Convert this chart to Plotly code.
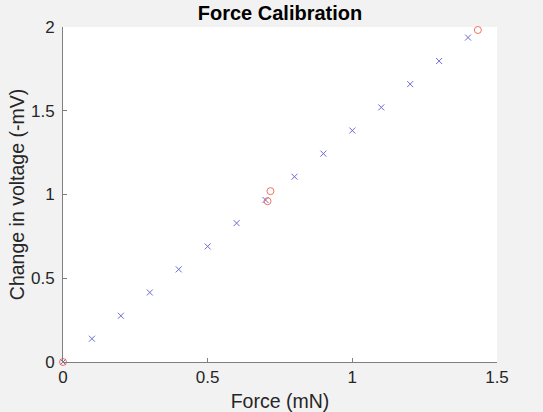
import plotly.graph_objects as go

# blue crosses: measured points
force = [0.0, 0.1, 0.2, 0.3, 0.4, 0.5, 0.6, 0.7, 0.8, 0.9, 1.0, 1.1, 1.2, 1.3, 1.4]
voltage = [0.0, 0.139, 0.276, 0.415, 0.553, 0.690, 0.829, 0.967, 1.106, 1.244,
           1.382, 1.520, 1.659, 1.797, 1.937]

# red circles: calibration points
cal_force = [0.0, 0.707, 0.717, 1.434]
cal_voltage = [0.0, 0.960, 1.020, 1.982]

xticks = [0, 0.5, 1, 1.5]
yticks = [0, 0.5, 1, 1.5, 2]

FONT = "Liberation Sans, Arial, sans-serif"

fig = go.Figure()

fig.add_trace(go.Scatter(
    x=force, y=voltage, mode="markers", name="",
    marker=dict(symbol="x-thin", size=6, line=dict(color="#6b6bd6", width=1)),
    cliponaxis=False,
))
fig.add_trace(go.Scatter(
    x=cal_force, y=cal_voltage, mode="markers", name="",
    marker=dict(symbol="circle-open", size=7, color="#f2735e", line=dict(width=1)),
    cliponaxis=False,
))

tick_font = dict(family=FONT, size=17, color="#262626")
title_font = dict(family=FONT, size=19.5, color="#262626")

fig.update_layout(
    width=543,
    height=412,
    margin=dict(l=63, r=46, t=27, b=50),
    paper_bgcolor="#f2f2f2",
    plot_bgcolor="white",
    showlegend=False,
    title=dict(
        text="<b>Force Calibration</b>",
        x=0.5, xref="paper", xanchor="center",
        y=1, yref="paper", yanchor="bottom", pad=dict(b=7),
        font=dict(family=FONT, size=20, color="black"),
    ),
    xaxis=dict(
        range=[0, 1.5], tickvals=xticks, ticktext=[str(t) for t in xticks],
        showgrid=False, zeroline=False, showline=True, linecolor="#7f7f7f", linewidth=1,
        ticks="inside", ticklen=4, tickcolor="#7f7f7f",
        tickfont=tick_font, automargin=False,
        title=dict(text="Force (mN)", font=title_font, standoff=9),
    ),
    yaxis=dict(
        range=[0, 2], tickvals=yticks, ticktext=[str(t) for t in yticks],
        showgrid=False, zeroline=False, showline=True, linecolor="#7f7f7f", linewidth=1,
        ticks="inside", ticklen=4, tickcolor="#7f7f7f",
        tickfont=tick_font, automargin=False, ticklabelstandoff=4,
        title=dict(text="Change in voltage (-mV)", font=title_font, standoff=1),
    ),
)

fig.write_html(
    "out.html",
    config={"displayModeBar": False},
    post_script="document.body.style.margin='0';document.body.style.background='#f2f2f2';",
)
